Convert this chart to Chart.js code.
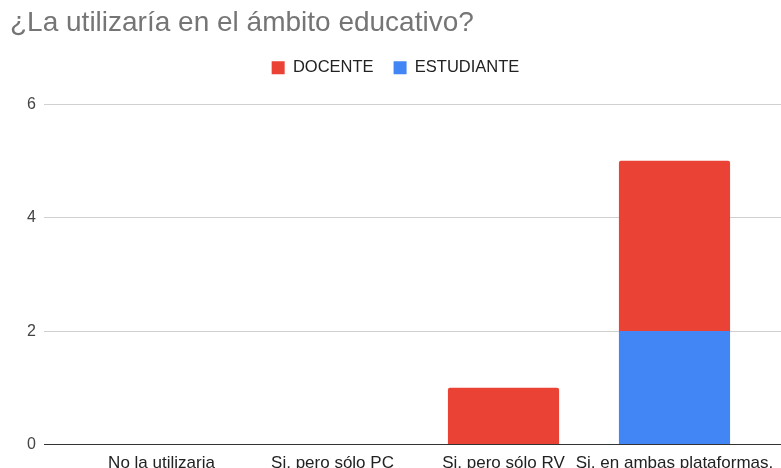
<!DOCTYPE html>
<html>
<head>
<meta charset="utf-8">
<script src="https://cdn.jsdelivr.net/npm/chart.js@4"></script>
<style>
  html, body { margin: 0; padding: 0; background: #fff; overflow: hidden; }
  #wrap { width: 781px; height: 483px; position: relative; }
</style>
</head>
<body>
<div id="wrap"><canvas id="chart"></canvas></div>
<script>
const categories = ["No la utilizaria", "Si, pero sólo PC", "Si, pero sólo RV", "Si, en ambas plataformas."];
const docente = [0, 0, 1, 3];
const estudiante = [0, 0, 0, 2];
const yMin = 0;
const yMax = 6;
const yStep = 2;

const FONT = "'Liberation Sans', Arial, sans-serif";

// extra room between legend and plot
const legendSpacer = {
    id: "legendSpacer",
    beforeInit(chart) {
        const origFit = chart.legend.fit;
        chart.legend.fit = function () {
            origFit.bind(chart.legend)();
            this.height += 18;
        };
    }
};

const gridColor = (ctx) => (ctx.tick && ctx.tick.value === 0 ? "#333333" : "#d0d0d0");

const ctx = document.getElementById("chart");
new Chart(ctx, {
    type: "bar",
    data: {
        labels: categories,
        datasets: [
            {
                label: "ESTUDIANTE",
                data: estudiante,
                backgroundColor: "#4285f4",
                borderRadius: 0,
            },
            {
                label: "DOCENTE",
                data: docente,
                backgroundColor: "#ea4335",
                borderRadius: { topLeft: 2, topRight: 2, bottomLeft: 0, bottomRight: 0 },
                borderSkipped: false,
            }
        ]
    },
    options: {
        responsive: true,
        maintainAspectRatio: false,
        animation: false,
        datasets: {
            bar: { barPercentage: 1, categoryPercentage: 0.65 }
        },
        layout: { padding: { left: 10, right: 0, top: 0, bottom: 0 } },
        plugins: {
            title: {
                display: true,
                text: "¿La utilizaría en el ámbito educativo?",
                align: "start",
                color: "#757575",
                font: { family: FONT, size: 28, weight: "normal" },
                padding: { top: 6, bottom: 0 }
            },
            legend: {
                display: true,
                position: "top",
                align: "center",
                labels: {
                    boxWidth: 13,
                    boxHeight: 13,
                    padding: 20,
                    color: "#222222",
                    font: { family: FONT, size: 16.5 },
                    sort: (a, b) => b.datasetIndex - a.datasetIndex
                }
            },
            tooltip: { enabled: false }
        },
        scales: {
            x: {
                stacked: true,
                afterFit: (scale) => { scale.paddingLeft = 0; scale.paddingRight = 0; },
                grid: { display: false, drawTicks: false },
                border: { display: false },
                ticks: {
                    color: "#222222",
                    font: { family: FONT, size: 17 },
                    padding: 9,
                    maxRotation: 0,
                    minRotation: 0,
                    autoSkip: false
                }
            },
            y: {
                stacked: true,
                min: yMin,
                max: yMax,
                position: "left",
                afterFit: (scale) => { scale.width = 66; },
                grid: { color: gridColor, tickLength: 32, lineWidth: 1 },
                border: { display: false },
                ticks: {
                    stepSize: yStep,
                    color: "#444444",
                    padding: 8,
                    font: { family: FONT, size: 16 }
                }
            },
            y2: {
                min: yMin,
                max: yMax,
                position: "right",
                afterFit: (scale) => { scale.width = 21; },
                grid: { color: gridColor, tickLength: 21, drawOnChartArea: false },
                border: { display: false },
                ticks: { stepSize: yStep, display: false }
            }
        }
    },
    plugins: [legendSpacer]
});
</script>
</body>
</html>
